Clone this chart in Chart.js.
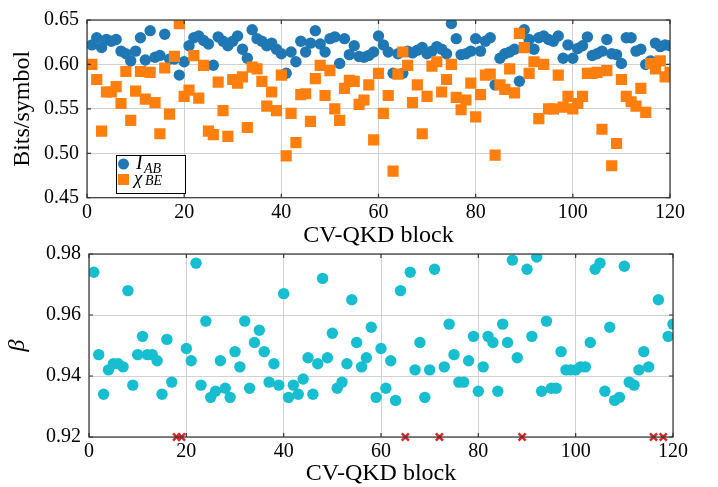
<!DOCTYPE html>
<html>
<head>
<meta charset="utf-8">
<script src="https://cdn.jsdelivr.net/npm/chart.js@4.4.0/dist/chart.umd.min.js"></script>
<style>
  html, body { margin: 0; padding: 0; background: #ffffff; }
  #wrap { position: relative; width: 718px; height: 487px; overflow: hidden; }
  canvas { position: absolute; left: 0; }
  #c1 { top: 0; }
  #c2 { top: 230px; }
</style>
</head>
<body>
<div id="wrap">
  <canvas id="c1" width="718" height="250"></canvas>
  <canvas id="c2" width="718" height="258"></canvas>
</div>
<script>
// ---- data (block index 1..120) ----
const IAB = [
 0.622,0.630,0.619,0.628,0.626,0.628,0.615,0.612,0.604,0.615,
 0.630,0.605,0.638,0.608,0.610,0.634,0.606,0.606,0.588,0.603,
 0.621,0.630,0.632,0.627,0.623,0.599,0.631,0.626,0.621,0.626,
 0.632,0.617,0.607,0.639,0.629,0.626,0.621,0.624,0.617,0.612,
 0.590,0.614,0.603,0.626,0.614,0.624,0.638,0.623,0.614,0.629,
 0.631,0.601,0.629,0.611,0.621,0.609,0.608,0.610,0.614,0.632,
 0.622,0.614,0.590,0.612,0.590,0.615,0.613,0.616,0.619,0.612,
 0.615,0.620,0.617,0.612,0.646,0.629,0.611,0.612,0.615,0.629,
 0.615,0.626,0.630,0.577,0.607,0.612,0.614,0.617,0.581,0.639,
 0.628,0.617,0.630,0.632,0.628,0.626,0.632,0.607,0.622,0.607,
 0.618,0.621,0.631,0.610,0.612,0.615,0.628,0.612,0.611,0.601,
 0.630,0.630,0.615,0.617,0.600,0.604,0.624,0.620,0.622,0.621
];
const CHIBE = [
 0.600,0.583,0.525,0.569,0.569,0.575,0.556,0.592,0.537,0.570,
 0.592,0.561,0.591,0.557,0.522,0.596,0.544,0.609,0.646,0.564,
 0.571,0.610,0.562,0.599,0.525,0.521,0.580,0.548,0.519,0.583,
 0.579,0.586,0.529,0.597,0.595,0.581,0.553,0.569,0.548,0.588,
 0.497,0.545,0.512,0.566,0.567,0.536,0.584,0.599,0.565,0.593,
 0.550,0.537,0.573,0.582,0.581,0.555,0.560,0.577,0.515,0.590,
 0.545,0.565,0.480,0.589,0.614,0.599,0.557,0.577,0.522,0.564,
 0.598,0.603,0.569,0.583,0.600,0.563,0.549,0.560,0.579,0.541,
 0.566,0.588,0.589,0.498,0.577,0.572,0.595,0.568,0.635,0.619,
 0.590,0.603,0.539,0.600,0.550,0.550,0.588,0.552,0.564,0.550,
 0.556,0.564,0.590,0.590,0.591,0.527,0.593,0.486,0.511,0.583,
 0.564,0.558,0.553,0.573,0.546,0.601,0.595,0.604,0.586,0.591
];
const BETA = [
 0.974,0.947,0.934,0.942,0.944,0.944,0.943,0.968,0.937,0.947,
 0.953,0.947,0.947,0.945,0.934,0.952,0.938,null,null,0.949,
 0.945,0.977,0.937,0.958,0.933,0.935,0.945,0.936,0.933,0.948,
 0.943,0.958,0.936,0.951,0.955,0.948,0.938,0.944,0.937,0.967,
 0.933,0.937,0.934,0.939,0.946,0.934,0.944,0.972,0.946,0.954,
 0.936,0.938,0.944,0.965,0.951,0.943,0.946,0.956,0.933,0.949,
 0.936,0.945,0.932,0.968,null,0.974,0.942,0.951,0.933,0.942,
 0.975,null,0.943,0.957,0.947,0.938,0.938,0.945,0.953,0.935,
 0.943,0.953,0.951,0.935,0.957,0.951,0.978,0.946,null,0.975,
 0.953,0.979,0.935,0.958,0.936,0.936,0.948,0.942,0.942,0.942,
 0.943,0.943,0.951,0.975,0.977,0.935,0.956,0.932,0.933,0.976,
 0.938,0.937,0.942,0.948,0.943,null,0.965,null,0.953,0.957
];
const FAILED = [18, 19, 65, 72, 89, 116, 118];
const FAIL_LEVEL = 0.92;
const X_TICKS = [0, 20, 40, 60, 80, 100, 120];
const TOP_Y_TICKS = [0.45, 0.50, 0.55, 0.60, 0.65];
const BOT_Y_TICKS = [0.92, 0.94, 0.96, 0.98];
const X_TITLE = 'CV-QKD block';
const TOP_Y_TITLE = 'Bits/symbol';
const BOT_Y_TITLE = 'β';

const SERIF = '"Liberation Serif", "DejaVu Serif", serif';
const toPts = arr => arr.map((v, i) => ({ x: i + 1, y: v }));

const framePlugin = {
  id: 'frame',
  afterDatasetsDraw(chart) {
    const a = chart.chartArea, ctx = chart.ctx;
    ctx.save();
    ctx.strokeStyle = '#333333';
    ctx.lineWidth = 1.2;
    const xs = chart.scales.x, ys = chart.scales.y;
    ctx.beginPath();
    xs.ticks.forEach(t => {
      const px = xs.getPixelForValue(t.value);
      ctx.moveTo(px, a.bottom); ctx.lineTo(px, a.bottom - 4);
      ctx.moveTo(px, a.top); ctx.lineTo(px, a.top + 4);
    });
    ys.ticks.forEach(t => {
      const py = ys.getPixelForValue(t.value);
      ctx.moveTo(a.left, py); ctx.lineTo(a.left + 4, py);
      ctx.moveTo(a.right, py); ctx.lineTo(a.right - 4, py);
    });
    ctx.stroke();
    ctx.strokeRect(a.left, a.top, a.right - a.left, a.bottom - a.top);
    ctx.restore();
  }
};

const legendPlugin = {
  id: 'texLegend',
  afterDatasetsDraw(chart) {
    const ctx = chart.ctx;
    const bx = 116, by = 155, bw = 69, bh = 38;
    ctx.save();
    ctx.fillStyle = 'rgba(255,255,255,0.9)';
    ctx.fillRect(bx, by, bw, bh);
    ctx.strokeStyle = '#000000';
    ctx.lineWidth = 1;
    ctx.strokeRect(bx + 0.5, by + 0.5, bw, bh);
    ctx.fillStyle = '#1f77b4';
    ctx.beginPath(); ctx.arc(123.5, 164, 5.5, 0, Math.PI * 2); ctx.fill();
    ctx.fillStyle = '#ff7f0e';
    ctx.fillRect(118, 174, 11, 11);
    ctx.fillStyle = '#000000';
    ctx.textBaseline = 'alphabetic';
    ctx.font = 'italic 20px ' + SERIF;
    ctx.fillText('I', 136, 169);
    ctx.font = 'italic 14px ' + SERIF;
    ctx.fillText('AB', 144, 173);
    ctx.font = 'italic 19px ' + SERIF;
    ctx.fillText('χ', 134, 184);
    ctx.font = 'italic 14px ' + SERIF;
    ctx.fillText('BE', 145, 185);
    ctx.restore();
  }
};

function xScale(height) {
  return {
    type: 'linear', min: 0, max: 120,
    afterBuildTicks: s => { s.ticks = X_TICKS.map(v => ({ value: v })); },
    ticks: { font: { family: SERIF, size: 20 }, color: '#000', padding: 3, maxRotation: 0 },
    grid: { color: '#d2d2d2', lineWidth: 1, drawTicks: false },
    border: { display: false },
    title: { display: true, text: X_TITLE, font: { family: SERIF, size: 24 }, color: '#000', padding: 0 },
    afterFit: s => { s.height = height; }
  };
}
function yScale(min, max, ticks, title, width, italic) {
  return {
    type: 'linear', min: min, max: max,
    afterBuildTicks: s => { s.ticks = ticks.map(v => ({ value: v })); },
    ticks: { font: { family: SERIF, size: 20 }, color: '#000', padding: 8,
             callback: v => Number(v).toFixed(2) },
    grid: { color: '#d2d2d2', lineWidth: 1, drawTicks: false },
    border: { display: false },
    title: { display: true, text: title, font: { family: SERIF, size: 24, style: italic ? 'italic' : 'normal' }, color: '#000', padding: 0 },
    afterFit: s => { s.width = width; }
  };
}

new Chart(document.getElementById('c1'), {
  type: 'scatter',
  data: {
    datasets: [
      { label: 'IAB', data: toPts(IAB), order: 2, pointStyle: 'circle', pointRadius: 5.7,
        backgroundColor: '#1f77b4', borderColor: '#1f77b4', borderWidth: 0, pointHoverRadius: 5.7 },
      { label: 'CHIBE', data: toPts(CHIBE), order: 1, pointStyle: 'rect', pointRadius: 7.9,
        backgroundColor: '#ff7f0e', borderColor: '#ff7f0e', borderWidth: 0, pointHoverRadius: 7.9 }
    ]
  },
  options: {
    responsive: false, animation: false, devicePixelRatio: 1,
    layout: { padding: { left: 8, right: 48, top: 15, bottom: 0 } },
    plugins: { legend: { display: false }, tooltip: { enabled: false } },
    scales: { x: xScale(52.3), y: yScale(0.45, 0.65, TOP_Y_TICKS, TOP_Y_TITLE, 79, false) }
  },
  plugins: [framePlugin, legendPlugin]
});

new Chart(document.getElementById('c2'), {
  type: 'scatter',
  data: {
    datasets: [
      { label: 'beta', data: toPts(BETA), order: 2, pointStyle: 'circle', pointRadius: 5.7,
        backgroundColor: '#17becf', borderColor: '#17becf', borderWidth: 0, pointHoverRadius: 5.7 },
      { label: 'failed', data: FAILED.map(b => ({ x: b, y: FAIL_LEVEL })), order: 1, pointStyle: 'crossRot',
        pointRadius: 5, borderColor: '#d62728', borderWidth: 2.5, clip: false, pointHoverRadius: 5 }
    ]
  },
  options: {
    responsive: false, animation: false, devicePixelRatio: 1,
    layout: { padding: { left: 3, right: 45, top: 24, bottom: 0 } },
    plugins: { legend: { display: false }, tooltip: { enabled: false } },
    scales: { x: xScale(51), y: yScale(0.92, 0.98, BOT_Y_TICKS, BOT_Y_TITLE, 86, true) }
  },
  plugins: [framePlugin]
});
</script>
</body>
</html>
